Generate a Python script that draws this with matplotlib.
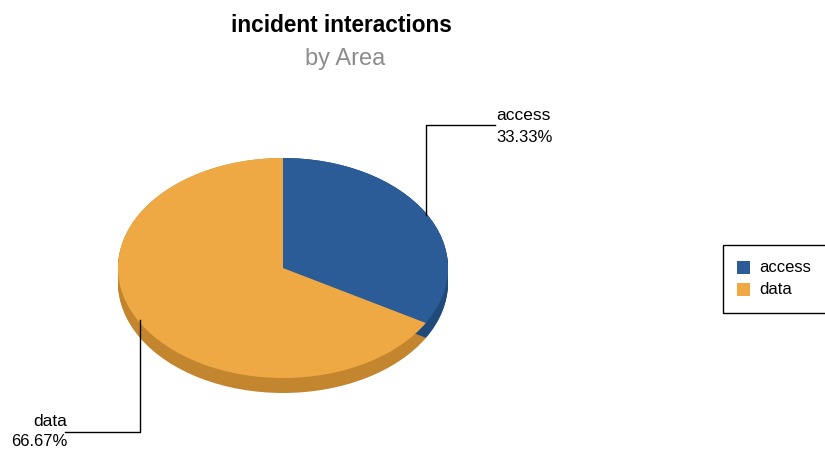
import numpy as np
import matplotlib.pyplot as plt
from matplotlib.patches import Rectangle

plt.rcParams['font.family'] = ['Liberation Sans', 'DejaVu Sans']

labels = ["access", "data"]
values = [1, 2]
top_colors = ["#2b5c97", "#efa944"]
side_colors = ["#1f4a7a", "#c3862f"]
title = "incident interactions"
subtitle = "by Area"

W, H = 825, 450
cx, cy, rx, ry, depth = 283, 268, 165, 110, 15

fig = plt.figure(figsize=(W / 100, H / 100), dpi=100)
extra = depth + 5
ax = fig.add_axes([(cx - rx) / W, (H - cy - ry - extra) / H,
                   2 * rx / W, (2 * ry + extra) / H])

# extruded side: stack darker pies downwards
for k in range(depth + 1):
    ax.pie(values, colors=side_colors, startangle=90, counterclock=False,
           center=(0, -k / ry), radius=1,
           wedgeprops=dict(linewidth=0.5, edgecolor='none'))
wedges, _ = ax.pie(values, colors=top_colors, startangle=90, counterclock=False,
                   radius=1, wedgeprops=dict(linewidth=0))
ax.set_aspect('auto')
ax.set_xlim(-1, 1)
ax.set_ylim(-1 - extra / ry, 1)
ax.axis('off')

# overlay in pixel coordinates
ov = fig.add_axes([0, 0, 1, 1], zorder=5)
ov.set_xlim(0, W)
ov.set_ylim(H, 0)
ov.axis('off')
ov.patch.set_alpha(0)

ov.text(341, 25, title, ha='center', va='center', fontsize=16.3, fontweight='bold')
ov.text(345, 59, subtitle, ha='center', va='center', fontsize=17, color='#8c8c8c')

def pie_px(theta_deg):
    t = np.deg2rad(theta_deg)
    return cx + rx * np.cos(t), cy - ry * np.sin(t)

total = sum(values)
pcts = [v / total * 100 for v in values]

# access: leader from wedge middle
a0 = 90 - 360 * values[0] / total / 2
x0, y0 = pie_px(a0)
ov.plot([x0, x0, 495], [y0 + 2, 125, 125], color='black', lw=1)
ov.text(496, 115, labels[0], ha='left', va='center', fontsize=12.5)
ov.text(496, 137, f"{pcts[0]:.2f}%", ha='left', va='center', fontsize=12)

# data
x1, y1 = pie_px(-150)
ov.plot([x1, x1, 65], [y1 - 3, 432, 432], color='black', lw=1)
ov.text(67, 421, labels[1], ha='right', va='center', fontsize=12.5)
ov.text(68, 442, f"{pcts[1]:.2f}%", ha='right', va='center', fontsize=12)

# legend box, running off the right edge
ov.add_patch(Rectangle((722.5, 244.5), 120, 68, fill=False, edgecolor='black', lw=1))
for i, (lab, col) in enumerate(zip(labels, top_colors)):
    yy = 267 + i * 22
    ov.add_patch(Rectangle((737, yy - 6), 13, 13, facecolor=col, edgecolor='none'))
    ov.text(759, yy, lab, ha='left', va='center', fontsize=12)

fig.savefig("out.png", dpi=100)
